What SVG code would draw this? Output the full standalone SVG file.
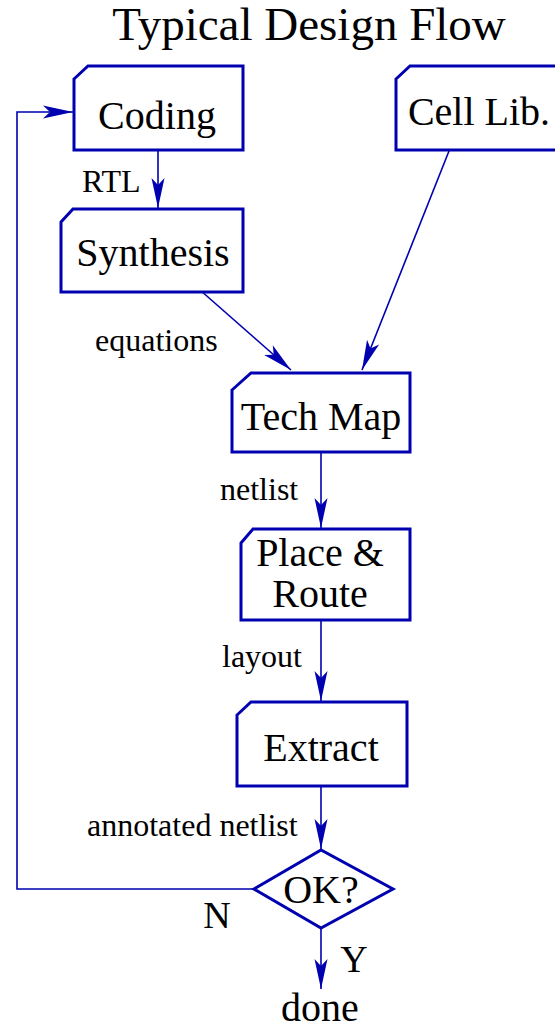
<svg xmlns="http://www.w3.org/2000/svg" width="555" height="1029" viewBox="0 0 555 1029">
<style>
.box{fill:#fff;stroke:#0000b0;stroke-width:3;stroke-linejoin:miter}
.con{fill:none;stroke:#0000b0;stroke-width:1.6}
.node{font-family:"Liberation Serif",serif;font-size:40px;fill:#000;text-anchor:middle}
.lbl{font-family:"Liberation Serif",serif;font-size:32px;fill:#000}
.title{font-family:"Liberation Serif",serif;font-size:47px;fill:#000;text-anchor:middle}
</style>
<defs>
<marker id="ah" viewBox="-30 -8 31 16" refX="0" refY="0" markerWidth="31" markerHeight="16" markerUnits="userSpaceOnUse" orient="auto" overflow="visible">
<path d="M0,0 L-30,-6.5 L-23,0 L-30,6.5 Z" fill="#0000b0"/>
</marker>
</defs>
<text class="title" x="309" y="40">Typical Design Flow</text>
<g id="connectors">
<line class="con" x1="158" y1="150" x2="158" y2="208" marker-end="url(#ah)"/>
<line class="con" x1="200" y1="290" x2="291" y2="370" marker-end="url(#ah)"/>
<line class="con" x1="449" y1="151" x2="362" y2="370" marker-end="url(#ah)"/>
<line class="con" x1="321" y1="452" x2="321" y2="528" marker-end="url(#ah)"/>
<line class="con" x1="321" y1="620" x2="321" y2="701" marker-end="url(#ah)"/>
<line class="con" x1="321" y1="786" x2="321" y2="849" marker-end="url(#ah)"/>
<line class="con" x1="321" y1="928" x2="321" y2="989" marker-end="url(#ah)"/>
<polyline class="con" points="254,889 17,889 17,112 73,112" marker-end="url(#ah)"/>
<text class="lbl" x="82" y="192">RTL</text>
<text class="lbl" x="95" y="351">equations</text>
<text class="lbl" x="220" y="500">netlist</text>
<text class="lbl" x="222" y="667">layout</text>
<text class="lbl" x="87" y="836">annotated netlist</text>
<text class="node" x="217" y="928" style="font-size:38px">N</text>
<text class="node" x="354" y="972" style="font-size:38px">Y</text>
</g>
<g id="coding">
<path class="box" d="M74,79 L88,66 L243,66 L243,150 L74,150 Z"/>
<text class="node" x="157" y="129">Coding</text>
</g>
<g id="celllib">
<path class="box" d="M396,79 L410,66 L560,66 L560,150 L396,150 Z"/>
<text class="node" x="479" y="125">Cell Lib.</text>
</g>
<g id="synthesis">
<path class="box" d="M61,222 L73,209 L243,209 L243,292 L61,292 Z"/>
<text class="node" x="153" y="266">Synthesis</text>
</g>
<g id="techmap">
<path class="box" d="M232,390 L251,373 L410,373 L410,452 L232,452 Z"/>
<text class="node" x="321" y="430">Tech Map</text>
</g>
<g id="placeroute">
<path class="box" d="M241,543 L253,529 L410,529 L410,620 L241,620 Z"/>
<text class="node" x="320" y="566">Place &amp;</text>
<text class="node" x="320" y="607">Route</text>
</g>
<g id="extract">
<path class="box" d="M237,715 L251,702 L407,702 L407,786 L237,786 Z"/>
<text class="node" x="321" y="761">Extract</text>
</g>
<g id="ok">
<path class="box" d="M254,889 L321,850 L393,889 L321,928 Z"/>
<text class="node" x="321" y="903">OK?</text>
</g>
<g id="done">
<text class="node" x="320" y="1021">done</text>
</g>
</svg>
